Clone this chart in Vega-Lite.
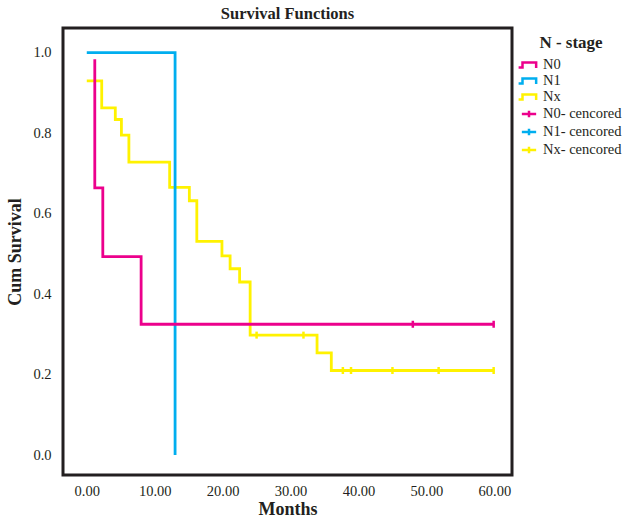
{
  "$schema": "https://vega.github.io/schema/vega-lite/v6.json",
  "autosize": "none",
  "width": 449,
  "height": 447,
  "padding": {"left": 63, "top": 28, "right": 114, "bottom": 45},
  "background": "white",
  "config": {
    "font": "Liberation Serif",
    "view": {"stroke": "#231f20", "strokeWidth": 3},
    "axis": {
      "grid": false, "ticks": false, "domain": false,
      "labelFont": "Liberation Serif", "labelFontSize": 14.5, "labelColor": "#231f20",
      "titleFont": "Liberation Serif", "titleFontSize": 18, "titleFontWeight": "bold", "titleColor": "#231f20"
    }
  },
  "title": {"text": "Survival Functions", "font": "Liberation Serif", "fontSize": 16.5, "fontWeight": "bold", "color": "#231f20", "offset": 6, "anchor": "middle"},
  "datasets": {
    "curves": [
      {"series": "Nx", "i": 0, "time": 0, "surv": 0.93},
      {"series": "Nx", "i": 1, "time": 2.2, "surv": 0.863},
      {"series": "Nx", "i": 2, "time": 4.2, "surv": 0.834},
      {"series": "Nx", "i": 3, "time": 5.1, "surv": 0.795},
      {"series": "Nx", "i": 4, "time": 6.2, "surv": 0.728},
      {"series": "Nx", "i": 5, "time": 12.2, "surv": 0.665},
      {"series": "Nx", "i": 6, "time": 15.1, "surv": 0.632},
      {"series": "Nx", "i": 7, "time": 16.2, "surv": 0.531},
      {"series": "Nx", "i": 8, "time": 19.9, "surv": 0.495},
      {"series": "Nx", "i": 9, "time": 21.1, "surv": 0.463},
      {"series": "Nx", "i": 10, "time": 22.5, "surv": 0.43},
      {"series": "Nx", "i": 11, "time": 24.05, "surv": 0.298},
      {"series": "Nx", "i": 12, "time": 33.9, "surv": 0.254},
      {"series": "Nx", "i": 13, "time": 36.0, "surv": 0.21},
      {"series": "Nx", "i": 14, "time": 60.0, "surv": 0.21},
      {"series": "N1", "i": 0, "time": 0, "surv": 1.0},
      {"series": "N1", "i": 1, "time": 13.0, "surv": 0.0},
      {"series": "N0", "i": 0, "time": 1.18, "surv": 0.984},
      {"series": "N0", "i": 1, "time": 1.18, "surv": 0.664},
      {"series": "N0", "i": 2, "time": 2.36, "surv": 0.493},
      {"series": "N0", "i": 3, "time": 8.0, "surv": 0.325},
      {"series": "N0", "i": 4, "time": 60.0, "surv": 0.325}
    ],
    "censored": [
      {"series": "N0- cencored", "time": 48.0, "surv": 0.325},
      {"series": "N0- cencored", "time": 59.9, "surv": 0.325},
      {"series": "Nx- cencored", "time": 25.0, "surv": 0.298},
      {"series": "Nx- cencored", "time": 31.9, "surv": 0.298},
      {"series": "Nx- cencored", "time": 37.7, "surv": 0.21},
      {"series": "Nx- cencored", "time": 38.9, "surv": 0.21},
      {"series": "Nx- cencored", "time": 45.0, "surv": 0.21},
      {"series": "Nx- cencored", "time": 51.8, "surv": 0.21},
      {"series": "Nx- cencored", "time": 59.9, "surv": 0.21}
    ]
  },
  "layer": [
    {
      "data": {"name": "curves"},
      "mark": {"type": "line", "interpolate": "step-after", "strokeWidth": 2.8},
      "encoding": {
        "x": {"field": "time", "type": "quantitative", "title": "Months",
              "scale": {"domain": [-3.5, 62.6], "nice": false, "zero": false},
              "axis": {"values": [0, 10, 20, 30, 40, 50, 60], "format": ".2f", "labelPadding": 9, "titlePadding": 3}},
        "y": {"field": "surv", "type": "quantitative", "title": "Cum Survival",
              "scale": {"domain": [-0.0497, 1.0614], "nice": false, "zero": false},
              "axis": {"values": [0, 0.2, 0.4, 0.6, 0.8, 1.0], "format": ".1f", "labelPadding": 12, "titlePadding": 8}},
        "order": {"field": "i", "type": "quantitative"},
        "color": {
          "field": "series", "type": "nominal",
          "scale": {
            "domain": ["N0", "N1", "Nx", "N0- cencored", "N1- cencored", "Nx- cencored"],
            "range": ["#ec008c", "#00aeef", "#fff200", "#ec008c", "#00aeef", "#fff200"]
          },
          "legend": {
            "orient": "none", "legendX": 458, "legendY": 7,
            "title": "N - stage", "titleFont": "Liberation Serif", "titleFontSize": 17, "titleFontWeight": "bold", "titleColor": "#231f20",
            "titleAnchor": "middle", "titlePadding": 5,
            "labelFont": "Liberation Serif", "labelFontSize": 14.5, "labelColor": "#231f20", "labelOffset": 6,
            "symbolSize": 169, "rowPadding": 0,
            "encode": {"symbols": {"update": {
              "shape": {"signal": "indexof(['N0','N1','Nx'], datum.value) >= 0 ? 'M-1.6,0.4H-1V-0.4H1.1V0.45' : 'M-1.1,0H1.1M0,-0.5V0.5'"},
              "fill": {"value": "transparent"},
              "stroke": {"scale": "color", "field": "value"},
              "strokeWidth": {"value": 2.5},
              "opacity": {"value": 1},
              "size": {"value": 169}
            }}}
          }
        }
      }
    },
    {
      "data": {"name": "censored"},
      "mark": {"type": "point", "shape": "M0,-1V1", "size": 49, "strokeWidth": 2.5, "filled": false, "opacity": 1},
      "encoding": {
        "x": {"field": "time", "type": "quantitative"},
        "y": {"field": "surv", "type": "quantitative"},
        "color": {"field": "series", "type": "nominal"}
      }
    }
  ]
}
